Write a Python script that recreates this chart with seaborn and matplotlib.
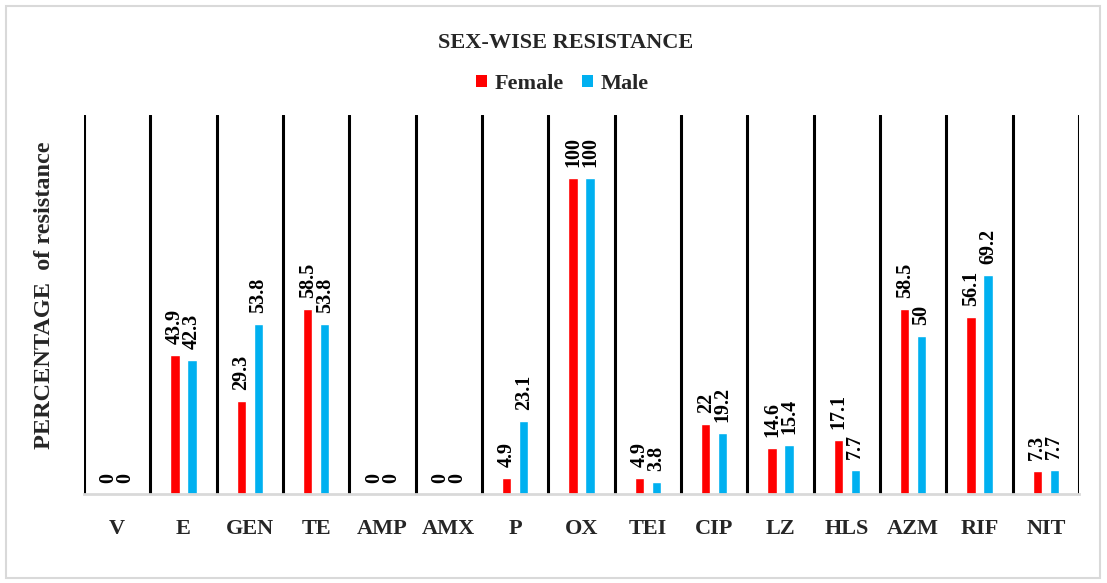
import numpy as np
import pandas as pd
import matplotlib
matplotlib.use("Agg")
import matplotlib.pyplot as plt
import matplotlib.ticker as mticker
from matplotlib.patches import Rectangle, Patch
import seaborn as sns

categories = ["V", "E", "GEN", "TE", "AMP", "AMX", "P", "OX", "TEI", "CIP", "LZ", "HLS", "AZM", "RIF", "NIT"]
female = [0, 43.9, 29.3, 58.5, 0, 0, 4.9, 100, 4.9, 22, 14.6, 17.1, 58.5, 56.1, 7.3]
male = [0, 42.3, 53.8, 53.8, 0, 0, 23.1, 100, 3.8, 19.2, 15.4, 7.7, 50, 69.2, 7.7]
series = ["Female", "Male"]
colors = {"Female": "#FF0000", "Male": "#00B0F0"}

df = pd.DataFrame({
    "drug": categories * 2,
    "sex": ["Female"] * len(categories) + ["Male"] * len(categories),
    "value": female + male,
})

sns.set_theme(style="white")
plt.rcParams["font.family"] = ["Liberation Serif", "DejaVu Serif"]
plt.rcParams["font.weight"] = "bold"

fig = plt.figure(figsize=(11.07, 5.83), dpi=100)
ax = fig.add_axes([0.0759, 0.1527, 0.8988, 0.6501])

sns.barplot(data=df, x="drug", y="value", hue="sex", order=categories,
            hue_order=series, palette=colors, width=0.51, gap=0.45,
            saturation=1, ax=ax, legend=False)

for cont, vals in zip(ax.containers, [female, male]):
    ax.bar_label(cont, labels=[f"{v:g}" for v in vals], rotation=90,
                 padding=8, fontsize=14.5, fontweight="bold", color="black")

ax.set_ylim(0, 120)
ax.set_xlim(-0.5, len(categories) - 0.5)
ax.set_yticks([])
ax.set_xlabel("")
ax.set_ylabel("")
ax.xaxis.set_minor_locator(mticker.FixedLocator(np.arange(len(categories) + 1) - 0.5))
ax.grid(False)
ax.grid(which="minor", axis="x", color="black", linewidth=2.2)
ax.set_axisbelow(True)
ax.tick_params(axis="x", which="both", length=0, pad=18, labelsize=16)
for lab in ax.get_xticklabels():
    lab.set_fontweight("bold")
for s in ["top", "left", "right"]:
    ax.spines[s].set_visible(False)
ax.spines["bottom"].set_color("#D9D9D9")
ax.spines["bottom"].set_linewidth(2)

fig.text(0.0405, 0.494, "PERCENTAGE  of resistance", rotation=90,
         ha="center", va="center", fontsize=17.5, fontweight="bold")

fig.text(0.511, 0.926, "SEX-WISE RESISTANCE", ha="center", va="center",
         fontsize=16, fontweight="bold")

handles = [Patch(facecolor=colors[s], edgecolor="none") for s in series]
fig.legend(handles, series, loc="center", bbox_to_anchor=(0.508, 0.856),
           ncol=2, frameon=False, handlelength=0.5, handleheight=0.5,
           handletextpad=0.35, columnspacing=0.8,
           prop={"size": 16, "weight": "bold"})

fig.patches.append(Rectangle((6 / 1107, 5 / 583), 1 - 13 / 1107, 1 - 11 / 583,
                             transform=fig.transFigure, fill=False,
                             edgecolor="#D9D9D9", linewidth=1.5))

fig.savefig("out.png", dpi=100)
